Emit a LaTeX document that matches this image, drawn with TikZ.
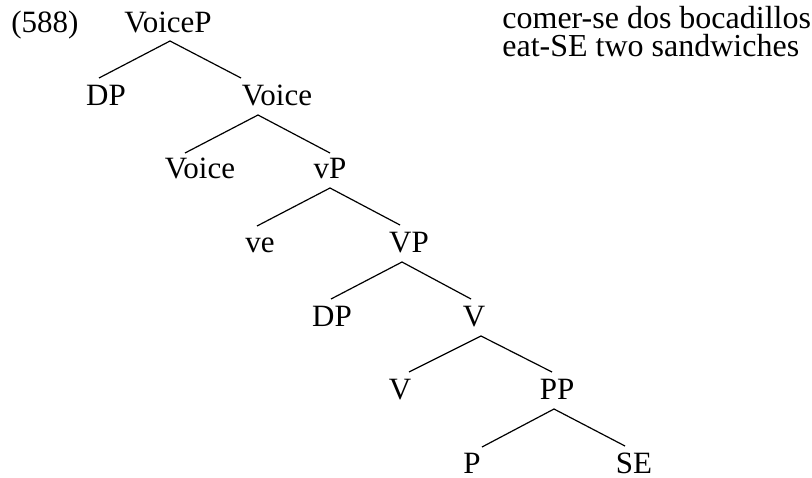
\documentclass[tikz,border=0pt]{standalone}
\usepackage{fontspec}
\setmainfont{Liberation Serif}
\tikzset{
  lbl/.style={inner sep=0pt, anchor=base, font=\fontsize{15.5}{13.5}\selectfont},
  glosslbl/.style={inner sep=0pt, anchor=base west, font=\fontsize{16}{14}\selectfont},
  branch/.style={line width=0.6pt}
}
\begin{document}
\begin{tikzpicture}[x=0.5pt, y=-0.5pt]
\useasboundingbox (0,0) rectangle (812,477);
\node[lbl, anchor=base west] (exnum) at (11,32) {(588)};
\node[lbl] (voicep) at (168,32) {VoiceP};
\node[lbl] (dpa) at (106,105) {DP};
\node[lbl] (voicebar) at (277,105) {Voice};
\node[lbl] (voicehead) at (200,178) {Voice};
\node[lbl] (vp) at (330,178) {vP};
\node[lbl] (ve) at (260,252) {ve};
\node[lbl] (bigvp) at (409,252) {VP};
\node[lbl] (dpb) at (332,326) {DP};
\node[lbl] (vbar) at (474,326) {V};
\node[lbl] (vhead) at (400,399) {V};
\node[lbl] (pp) at (557,399) {PP};
\node[lbl] (p) at (472,473) {P};
\node[lbl] (se) at (634,473) {SE};
\node[glosslbl] (gloss) at (502,28) {comer-se dos bocadillos};
\node[glosslbl] (trans) at (502,56) {eat-SE two sandwiches};
% branches
\draw[branch] ([shift={(-7,-27)}]dpa.base) -- ([shift={(2,9)}]voicep.base) -- ([shift={(-36,-27)}]voicebar.base);
\draw[branch] ([shift={(-15,-25)}]voicehead.base) -- ([shift={(-19,10)}]voicebar.base) -- ([shift={(0,-25)}]vp.base);
\draw[branch] ([shift={(-3,-26)}]ve.base) -- ([shift={(0,10)}]vp.base) -- ([shift={(-9,-27)}]bigvp.base);
\draw[branch] ([shift={(-1,-27)}]dpb.base) -- ([shift={(-7,10)}]bigvp.base) -- ([shift={(-3,-27)}]vbar.base);
\draw[branch] ([shift={(9,-27)}]vhead.base) -- ([shift={(7,10)}]vbar.base) -- ([shift={(-5,-27)}]pp.base);
\draw[branch] ([shift={(10,-26)}]p.base) -- ([shift={(-3,10)}]pp.base) -- ([shift={(-9,-27)}]se.base);
\end{tikzpicture}
\end{document}
